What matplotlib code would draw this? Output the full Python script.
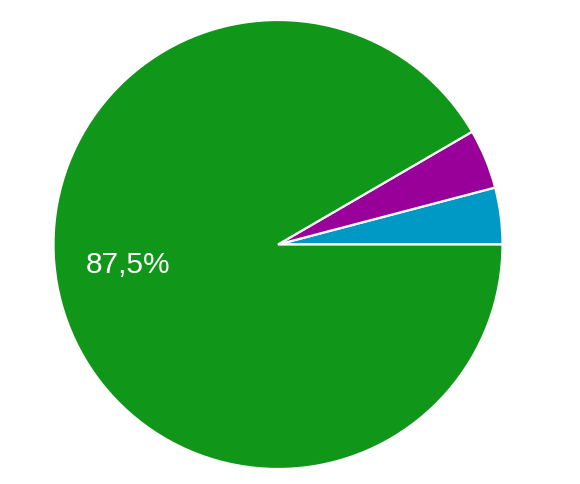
import matplotlib
matplotlib.use('Agg')
import matplotlib.pyplot as plt

labels = ['Option A', 'Option B', 'Option C']
values = [3.9, 4.1, 87.5]
colors = ['#0099c6', '#990099', '#109618']
shown = ['', '', '87,5%']

fig = plt.figure(figsize=(5.8, 4.84), dpi=100)
ax = fig.add_axes([53.5 / 580, 15 / 484, 449 / 580, 449 / 484])
wedges, _ = ax.pie(values, colors=colors, startangle=0, counterclock=True,
                   wedgeprops=dict(edgecolor='white', linewidth=1.6))
ax.set_xlim(-1, 1)
ax.set_ylim(-1, 1)
ax.axis('off')

for w, s in zip(wedges, shown):
    if s:
        ax.text(-0.668, -0.09, s, color='white', fontsize=21.5,
                family='Liberation Sans', ha='center', va='center')

fig.savefig('out.png', dpi=100)
